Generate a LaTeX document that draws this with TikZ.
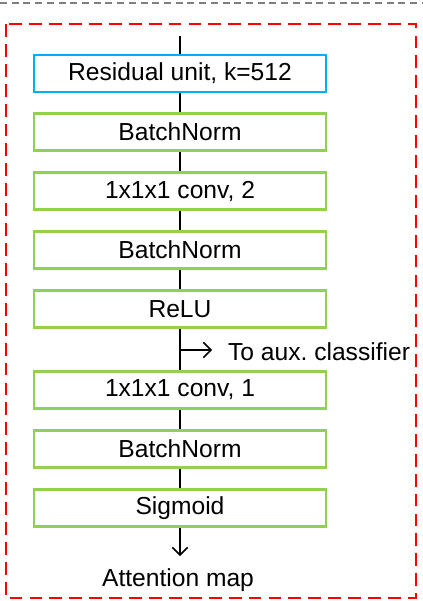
\documentclass[tikz,border=0pt]{standalone}
\usepackage{fontspec}
\setmainfont{Liberation Sans}
\usetikzlibrary{arrows.meta,positioning,calc}
\definecolor{boxgreen}{RGB}{146,208,80}
\definecolor{boxblue}{RGB}{0,176,240}
\newcommand{\bw}{8.76cm}
\newcommand{\bh}{1.11cm}
\newcommand{\mnode}[4]{
  \node [draw=#1,line width=1.8pt,fill=white,minimum width=\bw,minimum height=\bh,
         font=\fontsize{21}{24}\selectfont] at #2 (#4) {#3};
}
\newcommand{\medge}[2]{
  \draw [line width=1.3pt] (#1) -- (#2);
}

\begin{document}
\begin{tikzpicture}[x=0.03cm,y=-0.03cm,>={Straight Barb[length=6.5pt,width=13pt]}]
  \useasboundingbox (0,0) rectangle (422,601);
  \draw [gray,line width=1.2pt,dash pattern=on 6pt off 4pt] (0,3) -- (422,3);
  \draw [red,line width=2pt,dash pattern=on 11pt off 6pt] (6,24) rectangle (416,598);

  \mnode{boxblue}{(180,73.5)}{Residual unit, k=512}{ru}
  \mnode{boxgreen}{(180,132)}{BatchNorm}{bn1}
  \mnode{boxgreen}{(180,191)}{1x1x1 conv, 2}{conv2}
  \mnode{boxgreen}{(180,250)}{BatchNorm}{bn2}
  \mnode{boxgreen}{(180,309)}{ReLU}{relu}
  \mnode{boxgreen}{(180,390)}{1x1x1 conv, 1}{conv1}
  \mnode{boxgreen}{(180,449)}{BatchNorm}{bn3}
  \mnode{boxgreen}{(180,508)}{Sigmoid}{sig}

  \coordinate (in) at (180,36);
  \coordinate (split) at (180,350);
  \coordinate (aux) at (212,350);
  \node [anchor=west,font=\fontsize{21}{24}\selectfont] at (224,352) (auxtext) {To aux.\ classifier};
  \node [font=\fontsize{21}{24}\selectfont] at (178,580) (att) {Attention map};

  \medge{in}{ru}
  \medge{ru}{bn1}
  \medge{bn1}{conv2}
  \medge{conv2}{bn2}
  \medge{bn2}{relu}
  \medge{relu}{conv1}
  \medge{conv1}{bn3}
  \medge{bn3}{sig}
  \draw [line width=1.3pt,->] (split) -- (aux);
  \draw [line width=1.3pt,->] (sig) -- (180,556);
\end{tikzpicture}
\end{document}
